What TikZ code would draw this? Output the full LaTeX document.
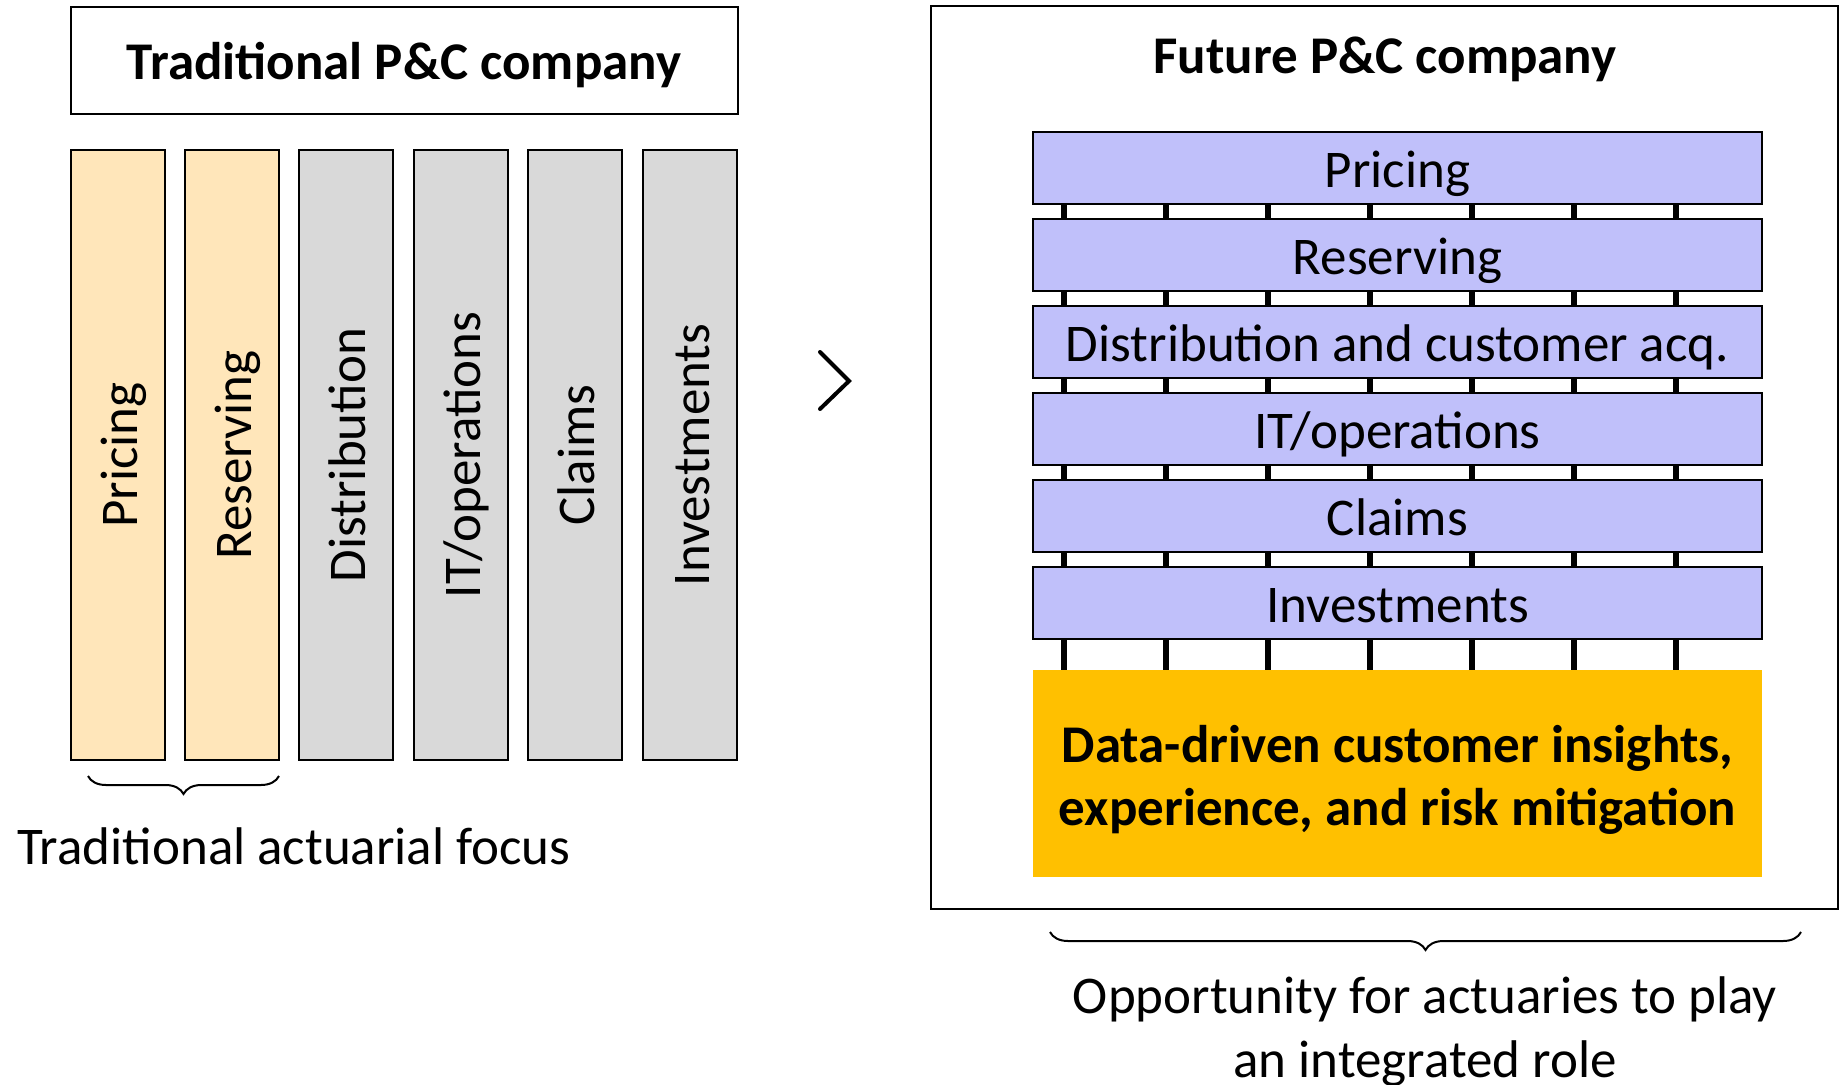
\documentclass[tikz,border=0pt]{standalone}
\usepackage{fontspec}
\setmainfont{Carlito}
\usetikzlibrary{positioning,decorations.pathreplacing}
\definecolor{corecream}{RGB}{255,230,186}
\definecolor{othergray}{RGB}{217,217,217}
\definecolor{layerblue}{RGB}{192,192,250}
\definecolor{insightorange}{RGB}{255,192,0}
\tikzset{%
    line text/.style={
        text height=44pt,
        text depth=5pt
    },
    every column/.style={
        draw,
        line width=2pt,
        minimum width=94pt,
        minimum height=610pt,
        inner sep=0pt
    },
    column core/.style={
        fill=corecream
    },
    column other/.style={
        fill=othergray
    },
    every layer/.style={
        draw,
        fill=layerblue,
        line width=2pt,
        minimum width=729pt,
        minimum height=72pt,
        inner sep=0pt,
        line text
    },
    heading/.style={
        font=\fontsize{53}{63}\selectfont\bfseries
    },
    insight/.style={
        fill=insightorange,
        minimum width=729pt,
        minimum height=207pt,
        inner sep=0pt
    },
    tie/.style={
        line width=6pt
    },
    brace below/.style={
        decorate,
        decoration={brace, mirror, amplitude=18pt},
        line width=2pt
    },
}

\begin{document}
\begin{tikzpicture}[x=1pt, y=-1pt, font=\fontsize{53}{64}\selectfont]
    \useasboundingbox (0,0) rectangle (1843,1084);

        % old company: one silo per function
        \node [draw, line width=2pt, minimum width=667pt, minimum height=107pt, inner sep=0pt, heading, text height=43pt, text depth=6pt] (trad-title) at (404,60.5) {Traditional P\&C company};

        \foreach \m [count=\y] in {core,core,other,other,other,other}
            \node [every column/.try, column \m/.try] (col-\y) at (117.5+114.4*\y-114.4,455) {};

        \foreach \l [count=\i] in {Pricing,Reserving,Distribution,IT/operations,Claims,Investments}
            \node [rotate=90, line text] (col-label-\i) at (col-\i) {\l};

        \draw [brace below] (88,776) -- (279,776);
        \node (focus-text) at (294,846) {Traditional actuarial focus};

        \draw [line width=4pt, line cap=round] (820,352) -- (849,381) -- (820,409);

        % new company: stacked layers tied together
        \node [draw, line width=2pt, minimum width=907pt, minimum height=903pt, inner sep=0pt] (future-box) at (1384.5,457.5) {};
        \node [heading] (future-title) at (1385,59) {Future P\&C company};

        \foreach \l [count=\i] in {Pricing,Reserving,Distribution and customer acq.,IT/operations,Claims,Investments}
            \node [every layer/.try] (layer-\i) at (1397.5,168+87*\i-87) {\l};

        \node [insight] (insight) at (1397.5,773.5) {};
        \node [heading, align=center] (insight-text) at ([yshift=-6pt]insight.center) {Data-driven customer insights,\\experience, and risk mitigation};

        \foreach \k in {1,...,7}
            \coordinate (tie-\k) at (1064+102*\k-102,0);

        \foreach \i [count=\j from 2] in {1,...,5}
            \foreach \k in {1,...,7}
                \draw [tie] (tie-\k |- layer-\i.south) -- (tie-\k |- layer-\j.north);

        \foreach \k in {1,...,7}
            \draw [tie] (tie-\k |- layer-6.south) -- (tie-\k |- insight.north);

        \draw [brace below] (1050,932) -- (1801,932);
        \node [align=center] (role-text) at (1425,1032) {Opportunity for actuaries to play\\an integrated role};

    \end{tikzpicture}
\end{document}
